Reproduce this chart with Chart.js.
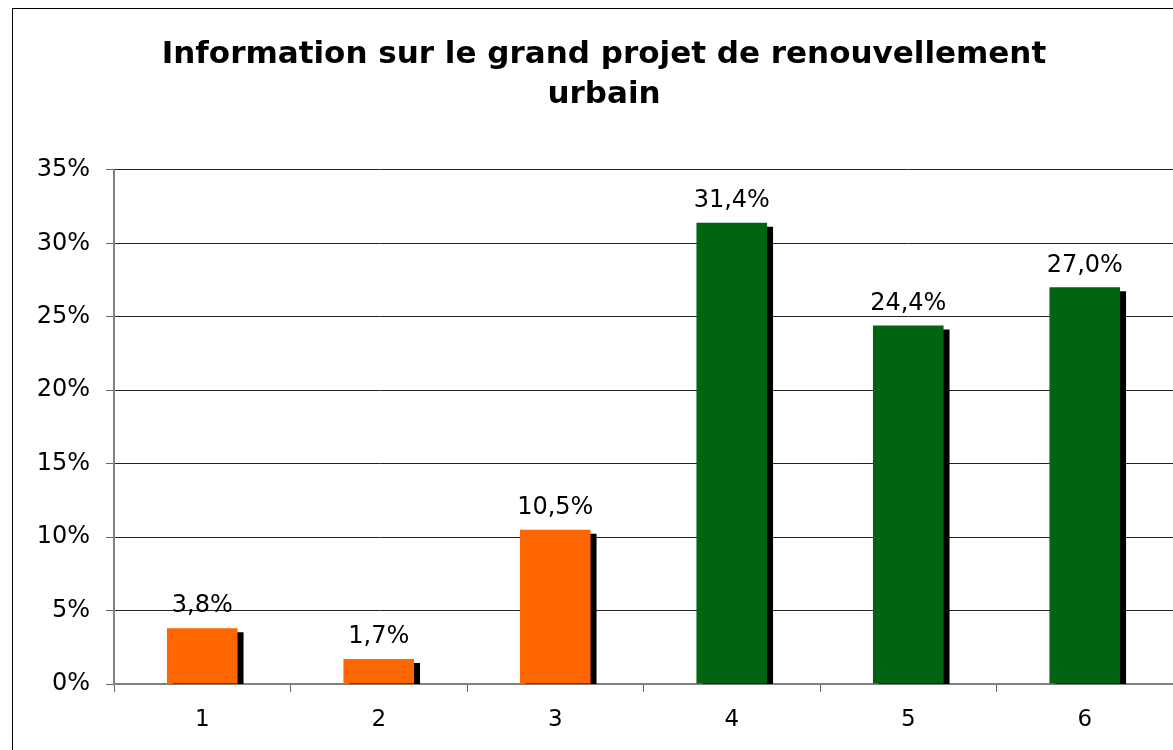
<!DOCTYPE html>
<html>
<head>
<meta charset="utf-8">
<script src="https://cdn.jsdelivr.net/npm/chart.js@4/dist/chart.umd.min.js"></script>
<style>
html, body { margin: 0; padding: 0; background: #fff; overflow: hidden; }
#box {
    position: absolute;
    left: 12px;
    top: 8px;
    width: 1184px;
    height: 760px;
    border: 1px solid #000;
}
</style>
</head>
<body>
<div id="box">
    <canvas id="chart" width="1184" height="741"></canvas>
</div>
<script>
/* data */
const categories = ["1", "2", "3", "4", "5", "6"];
const values = [3.8, 1.7, 10.5, 31.4, 24.4, 27.0];
const valueLabels = ["3,8%", "1,7%", "10,5%", "31,4%", "24,4%", "27,0%"];
const yTicks = [0, 5, 10, 15, 20, 25, 30, 35];

const barColors = [
    "#FF6600", "#FF6600", "#FF6600",
    "#006411", "#006411", "#006411"
];

const font = "'DejaVu Sans', Verdana, sans-serif";

/* shadow behind the bars */
const shadowPlugin = {
    id: "barShadow",
    beforeDatasetsDraw(chart) {
        const ctx = chart.ctx;
        ctx.save();
        ctx.shadowColor = "#000";
        ctx.shadowBlur = 0;
        ctx.shadowOffsetX = 6;
        ctx.shadowOffsetY = 4;
    },
    afterDatasetsDraw(chart) {
        chart.ctx.restore();
    }
};

/* value labels over bars */
const labelPlugin = {
    id: "valueLabels",
    afterDraw(chart) {
        const ctx = chart.ctx;
        const meta = chart.getDatasetMeta(0);
        ctx.save();
        ctx.font = "24px " + font;
        ctx.fillStyle = "#000";
        ctx.textAlign = "center";
        ctx.textBaseline = "middle";
        meta.data.forEach((bar, i) => {
            ctx.fillText(valueLabels[i], bar.x, bar.y - 22);
        });
        ctx.restore();
    }
};

new Chart(
    document.getElementById("chart"),
    {
        type: "bar",

        data: {
            labels: categories,
            datasets: [{
                data: values,
                backgroundColor: barColors,
                borderWidth: 0,
                categoryPercentage: 1,
                barPercentage: 0.4
            }]
        },

        options: {
            responsive: false,
            animation: false,
            events: [],
            layout: {
                padding: { left: 22, right: 24, top: 0, bottom: 0 }
            },
            plugins: {
                legend: { display: false },
                tooltip: { enabled: false },
                title: {
                    display: true,
                    text: [
                        "Information sur le grand projet de renouvellement",
                        "urbain"
                    ],
                    color: "#000",
                    font: { family: font, size: 31, weight: "bold", lineHeight: 1.32 },
                    padding: { top: 25, bottom: 54 }
                }
            },
            scales: {
                x: {
                    grid: {
                        offset: true,
                        drawOnChartArea: false,
                        color: "#666",
                        tickLength: 8
                    },
                    border: { color: "#808080", width: 2 },
                    ticks: {
                        color: "#000",
                        font: { family: font, size: 23 },
                        padding: 14
                    },
                    afterFit(scale) {
                        scale.height = 66;
                    }
                },
                y: {
                    min: 0,
                    max: 35,
                    afterBuildTicks(scale) {
                        scale.ticks = yTicks.map(v => ({ value: v }));
                    },
                    grid: {
                        color: ctx => ctx.tick && ctx.tick.value === 0 ? "rgba(0,0,0,0)" : "#222",
                        tickColor: "#666",
                        tickLength: 8,
                        lineWidth: 1
                    },
                    border: { color: "#808080", width: 2 },
                    ticks: {
                        color: "#000",
                        font: { family: font, size: 24 },
                        padding: 16,
                        callback: v => v + "%"
                    },
                    afterFit(scale) {
                        scale.width = 79;
                    }
                }
            }
        },

        plugins: [shadowPlugin, labelPlugin]
    }
);
</script>
</body>
</html>
